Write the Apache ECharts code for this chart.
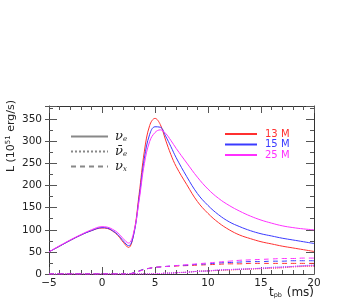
<!DOCTYPE html>
<html>
<head>
<meta charset="utf-8">
<script src="https://cdn.jsdelivr.net/npm/echarts@6/dist/echarts.min.js"></script>
<style>html,body{margin:0;padding:0;background:#fff}#c{width:354px;height:300px}</style>
</head>
<body>
<div id="c"></div>
<script>
// time after bounce (ms)
const t = [-5,-4,-3,-2,-1,0,0.5,1,1.5,2,2.5,3,3.5,4,4.5,5,5.5,6,6.5,7,8,9,10,11,12,13,14,15,16,17,18,19,20];
// nu_e luminosity (10^51 erg/s)
const nue13 = [50,63,76,88,98,104,103,97,87,72,60,92,180,278,336,352,338,303,270,243,202,164,137,116,100,88,80,73,68,63,59,55,51];
const nue15 = [50,63,76,88,98,105,104,98,89,75,64,90,172,262,316,333,332,312,288,263,220,182,155,134,118,107,98,91,86,81,77,73,69];
const nue25 = [50,64,77,89,100,107,106,101,93,80,70,95,166,250,300,320,326,318,302,284,251,219,192,171,155,142,131,122,115,109,105,102,100];
// anti nu_e
const anue13 = [0,0,0,0,0,0,0,0,0,0,0,0,0,0,0,1,1,2,2,3,4,6,7,8,9,10,11,12,13,14,16,17,18];
const anue15 = [0,0,0,0,0,0,0,0,0,0,0,0,0,0,0,1,1,2,2,3,4,6,7,9,10,11,12,13,15,16,17,19,20];
const anue25 = [0,0,0,0,0,0,0,0,0,0,0,0,0,0,0,1,1,2,2,3,4,6,7,9,10,11,12,13,14,15,17,18,19];
// nu_x
const nux13 = [0,0,0,0,0,0,0,0,0,0,0,3,7,11,13,15,16,17,17,18,19,20,21,22,23,23,24,24,24,24,24,24,24];
const nux15 = [0,0,0,0,0,0,0,0,0,0,0,3,7,11,13,15,16,17,18,19,20,22,23,25,26,27,28,28,29,29,30,30,30];
const nux25 = [0,0,0,0,0,0,0,0,0,0,0,2,6,10,13,15,16,17,18,19,21,23,25,27,29,31,32,33,34,35,35,36,36];

const models = ['13 M','15 M','25 M'];
const colors = ['#ff3030','#3a3aff','#ff30ff'];
const flavors = ['νe','ν̄e','νx'];
const yTicks = [0,50,100,150,200,250,300,350];
const xTicks = [-5,0,5,10,15,20];

const pair = (arr) => t.map((x,i)=>[x,arr[i]]);
const sets = [[nue13,nue15,nue25],[anue13,anue15,anue25],[nux13,nux15,nux25]];
const types = ['solid','dotted',[5,4]];

const series = [];
for (let f=0; f<3; f++) {
  for (let m=0; m<3; m++) {
    series.push({
      type:'line', name: models[m], xAxisIndex:0, yAxisIndex:0,
      data: pair(sets[f][m]), symbol:'none', smooth:0.4,
      lineStyle:{color:colors[m], width:1, type:types[f]}, itemStyle:{color:colors[m]},
      z: 3
    });
  }
}
for (let f=0; f<3; f++) {
  series.push({type:'line', name: flavors[f], data: [], symbol:'none',
    lineStyle:{color:'#888', width:1.3, type:types[f]}, itemStyle:{color:'#888'}});
}

const axisCol = '#333';
const lblFont = {fontFamily:'DejaVu Sans', fontSize:10.5, color:'#222'};
const chart = echarts.init(document.getElementById('c'), null, {renderer:'canvas'});
chart.setOption({
  animation:false,
  grid:{left:49, right:40, top:106, bottom:26},
  xAxis:[
    {type:'value', position:'bottom', min:-5, max:20, interval:5,
     axisLine:{onZero:false, lineStyle:{color:axisCol}}, splitLine:{show:false},
     axisTick:{inside:true, length:7, lineStyle:{color:'#555'}},
     minorTick:{show:true, splitNumber:5, length:4, lineStyle:{color:'#555'}},
     axisLabel:Object.assign({margin:4, formatter:v=>xTicks.includes(v)?(v<0?'−'+(-v):String(v)):''}, lblFont)},
    {type:'value', position:'top', min:-5, max:20, interval:5,
     axisLine:{onZero:false, lineStyle:{color:axisCol}}, splitLine:{show:false},
     axisTick:{inside:true, length:7, lineStyle:{color:'#555'}},
     minorTick:{show:true, splitNumber:5, length:4, lineStyle:{color:'#555'}},
     axisLabel:{show:false}}
  ],
  yAxis:[
    {type:'value', position:'left', min:0, max:380, interval:50,
     axisLine:{show:true, onZero:false, lineStyle:{color:axisCol}}, splitLine:{show:false},
     axisTick:{inside:true, length:8, lineStyle:{color:'#555'}},
     minorTick:{show:true, splitNumber:2, length:4, lineStyle:{color:'#555'}},
     axisLabel:Object.assign({margin:7, formatter:v=>yTicks.includes(v)?String(v):''}, lblFont)},
    {type:'value', position:'right', min:0, max:380, interval:50,
     axisLine:{show:true, onZero:false, lineStyle:{color:axisCol}}, splitLine:{show:false},
     axisTick:{inside:true, length:8, lineStyle:{color:'#555'}},
     minorTick:{show:true, splitNumber:2, length:4, lineStyle:{color:'#555'}},
     axisLabel:{show:false}},
    {type:'value', position:'left', offset:0, min:0, max:380, interval:50,
     axisLine:{show:false, onZero:false}, splitLine:{show:false},
     axisTick:{inside:false, length:4, lineStyle:{color:'#555'}},
     axisLabel:{show:false}}
  ],
  legend:[
    {orient:'vertical', left:65, top:125, itemWidth:37, itemHeight:12, itemGap:2,
     data: flavors, selectedMode:false, itemStyle:{opacity:0},
     formatter: n => n==='νe' ? '{g|ν}{s|e}' : (n==='ν̄e' ? '{g|ν̄}{s|e}' : '{g|ν}{s|x}'),
     textStyle:{padding:[0,0,0,2], rich:{
       g:{fontFamily:'DejaVu Serif', fontStyle:'italic', fontSize:13, color:'#222'},
       s:{fontFamily:'DejaVu Serif', fontStyle:'italic', fontSize:7, color:'#222', padding:[5,0,0,0]}}}},
    {orient:'vertical', left:219, top:124, itemWidth:32, itemHeight:11, itemGap:0.5,
     selectedMode:false, itemStyle:{opacity:0},
     data: models.map((m,i)=>({name:m, textStyle:{color:colors[i]}})),
     textStyle:{fontFamily:'DejaVu Sans', fontSize:10, padding:[0,0,0,3]}}
  ],
  graphic:[
    {type:'text', x:11, y:136, rotation:Math.PI/2,
     style:{text:'{a|L (10}{p|51}{a| erg/s)}', textAlign:'center', textVerticalAlign:'middle',
       rich:{a:{fontFamily:'DejaVu Sans', fontSize:11, fill:'#222'},
             p:{fontFamily:'DejaVu Sans', fontSize:7, fill:'#222', padding:[0,0,6,0]}}}},
    {type:'text', x:314, y:293,
     style:{text:'{a|t}{b|pb}{a| (ms)}', textAlign:'right', textVerticalAlign:'middle',
       rich:{a:{fontFamily:'DejaVu Sans', fontSize:12, fill:'#222'},
             b:{fontFamily:'DejaVu Sans', fontSize:6.5, fill:'#222', padding:[5,1,0,0]}}}}
  ],
  series: series
});
</script>
</body>
</html>
